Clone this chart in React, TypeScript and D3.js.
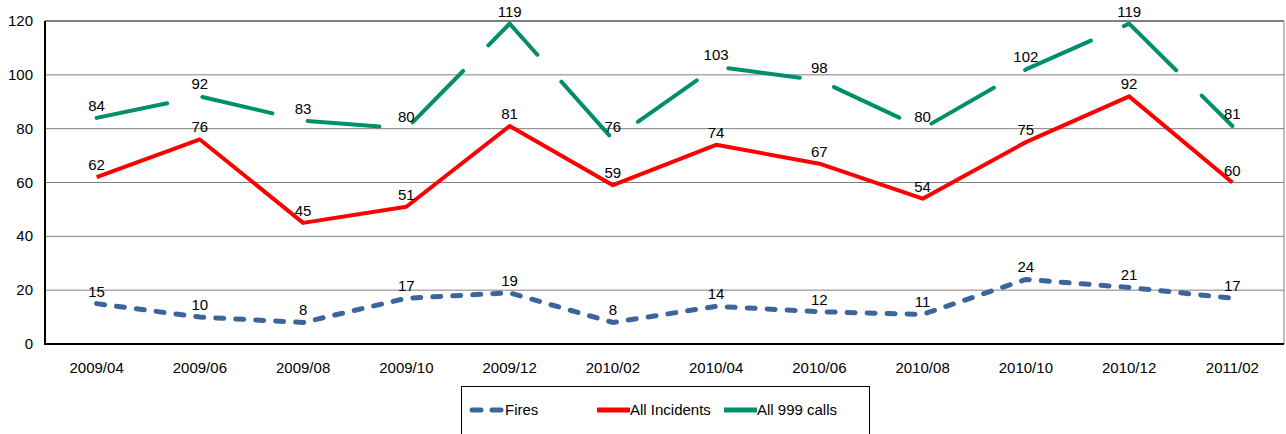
import React from "react";
import * as d3 from "d3";

const months = ["2009/04", "2009/06", "2009/08", "2009/10", "2009/12", "2010/02",
  "2010/04", "2010/06", "2010/08", "2010/10", "2010/12", "2011/02"];
const fires = [15, 10, 8, 17, 19, 8, 14, 12, 11, 24, 21, 17];
const allIncidents = [62, 76, 45, 51, 81, 59, 74, 67, 54, 75, 92, 60];
const all999 = [84, 92, 83, 80, 119, 76, 103, 98, 80, 102, 119, 81];
const yTicks = [0, 20, 40, 60, 80, 100, 120];

const series = [
  { name: "Fires", values: fires, color: "#3d659c", width: 5, dash: "8 12" },
  { name: "All Incidents", values: allIncidents, color: "#ff0000", width: 4, dash: null },
  { name: "All 999 calls", values: all999, color: "#008f6b", width: 4, dash: "72 36" },
];

const W = 1286;
const H = 434;
const left = 45, right = 1284, top = 21, bottom = 344;
const font = "'Liberation Sans', Arial, sans-serif";

export default function App() {
  const x = d3.scaleBand().domain(months).range([left, right]);
  const y = d3.scaleLinear().domain([0, 120]).range([bottom, top]);
  const cx = (m: string) => (x(m) ?? 0) + x.bandwidth() / 2;

  const line = d3.line<number>()
    .x((d, i) => cx(months[i]))
    .y(d => y(d));

  // legend layout
  const legendItems = [
    { x0: 470, x1: 505, tx: 505 },
    { x0: 597, x1: 630, tx: 630 },
    { x0: 724, x1: 757, tx: 757 },
  ];

  return (
    <svg width={W} height={H} style={{ position: "absolute", left: 0, top: 0, background: "#fff" }}
      fontFamily={font}>
      {/* gridlines */}
      {yTicks.filter(t => t > 0).map(t => (
        <line key={t} x1={left} x2={right} y1={y(t)} y2={y(t)}
          stroke={t === 120 ? "#000" : "#808080"} strokeWidth={1} />
      ))}
      <line x1={right} x2={right} y1={top} y2={bottom} stroke="#808080" strokeWidth={1} />
      {/* axes */}
      <line x1={left} x2={left} y1={top} y2={bottom + 1} stroke="#000" strokeWidth={2} />
      <line x1={left - 1} x2={right} y1={bottom} y2={bottom} stroke="#000" strokeWidth={2} />

      {yTicks.map(t => (
        <text key={t} x={33} y={y(t) + 5} textAnchor="end" fontSize={15} fill="#000">{t}</text>
      ))}
      {months.map(m => (
        <text key={m} x={cx(m)} y={373} textAnchor="middle" fontSize={15} fill="#000">{m}</text>
      ))}

      {series.map(s => (
        <path key={s.name} d={line(s.values) ?? ""} fill="none" stroke={s.color}
          strokeWidth={s.width} strokeDasharray={s.dash ?? undefined}
          strokeLinecap={s.dash ? "round" : "butt"} strokeLinejoin="round" />
      ))}

      {series.map(s => s.values.map((v, i) => (
        <text key={s.name + i} x={cx(months[i])} y={y(v) - 7} textAnchor="middle"
          fontSize={15} fill="#000">{v}</text>
      )))}

      {/* legend */}
      <rect x={461.5} y={386.5} width={408} height={60} fill="#fff" stroke="#000" strokeWidth={1} />
      {series.map((s, i) => {
        const it = legendItems[i];
        const dotted = s.name === "Fires";
        return (
          <g key={s.name}>
            {dotted ? (
              <g>
                <line x1={472} x2={481} y1={410} y2={410} stroke={s.color} strokeWidth={s.width} strokeLinecap="round" />
                <line x1={492} x2={501} y1={410} y2={410} stroke={s.color} strokeWidth={s.width} strokeLinecap="round" />
              </g>
            ) : (
              <line x1={it.x0} x2={it.x1} y1={410} y2={410} stroke={s.color} strokeWidth={5} />
            )}
            <text x={it.tx} y={415} fontSize={15} fill="#000">{s.name}</text>
          </g>
        );
      })}
    </svg>
  );
}
